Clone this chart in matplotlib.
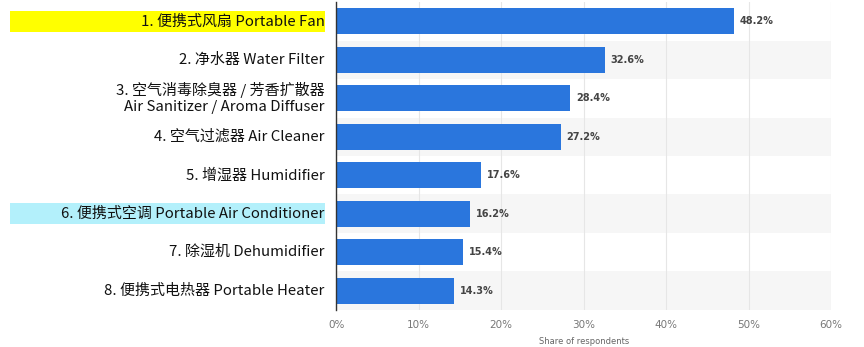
import matplotlib
matplotlib.use("Agg")
import matplotlib.pyplot as plt
from matplotlib.patches import Rectangle
from matplotlib.transforms import blended_transform_factory

plt.rcParams['font.family'] = ['Noto Sans CJK SC', 'DejaVu Sans']

categories = [
    "1. 便携式风扇 Portable Fan",
    "2. 净水器 Water Filter",
    "3. 空气消毒除臭器 / 芳香扩散器\nAir Sanitizer / Aroma Diffuser",
    "4. 空气过滤器 Air Cleaner",
    "5. 增湿器 Humidifier",
    "6. 便携式空调 Portable Air Conditioner",
    "7. 除湿机 Dehumidifier",
    "8. 便携式电热器 Portable Heater",
]
values = [48.2, 32.6, 28.4, 27.2, 17.6, 16.2, 15.4, 14.3]
highlights = {0: "#ffff00", 5: "#b3f0fb"}
xticks = [0, 10, 20, 30, 40, 50, 60]
xtick_labels = ["0%", "10%", "20%", "30%", "40%", "50%", "60%"]

fig = plt.figure(figsize=(8.64, 3.47), dpi=100)
ax = fig.add_axes([0.389, 0.107, 0.573, 0.887])

ypos = list(range(len(values)))
ax.set_xlim(0, 60)
ax.set_ylim(len(values) - 0.5, -0.5)

# alternating row stripes
for i in ypos:
    if i % 2 == 1:
        ax.axhspan(i - 0.5, i + 0.5, color="#f6f6f6", zorder=0, lw=0)

ax.set_xticks(xticks)
ax.set_xticklabels(xtick_labels)
ax.xaxis.grid(True, color="#e6e6e6", lw=0.8, zorder=0.5)
ax.set_axisbelow(True)

ax.barh(ypos, values, height=0.68, color="#2a76dd", zorder=2)
for y, v in zip(ypos, values):
    ax.text(v + 0.7, y, f"{v:.1f}%", va="center", ha="left",
            fontsize=7, fontweight="bold", color="#444444",
            family="DejaVu Sans", zorder=3)

for s in ["top", "right", "bottom"]:
    ax.spines[s].set_visible(False)
ax.spines["left"].set_color("#333333")
ax.spines["left"].set_linewidth(1.0)

ax.tick_params(axis="x", length=0, labelsize=7.5, labelcolor="#777777", pad=7)
ax.tick_params(axis="y", length=0, labelleft=False)
for t in ax.get_xticklabels():
    t.set_family("DejaVu Sans")
ax.set_xlabel("Share of respondents", fontsize=6, color="#666666",
              family="DejaVu Sans", labelpad=5)

# category labels with highlight boxes
tr = blended_transform_factory(fig.transFigure, ax.transData)
for i, lab in enumerate(categories):
    if i in highlights:
        ax.add_patch(Rectangle((0.012, i - 0.27), 0.364, 0.55, transform=tr,
                               facecolor=highlights[i], edgecolor="none",
                               clip_on=False, zorder=1))
    ax.text(0.376, i, lab, transform=tr, ha="right", va="center",
            fontsize=10.8, color="#111111", linespacing=1.2,
            multialignment="right", clip_on=False, zorder=2)

fig.savefig("out.png", dpi=100)
